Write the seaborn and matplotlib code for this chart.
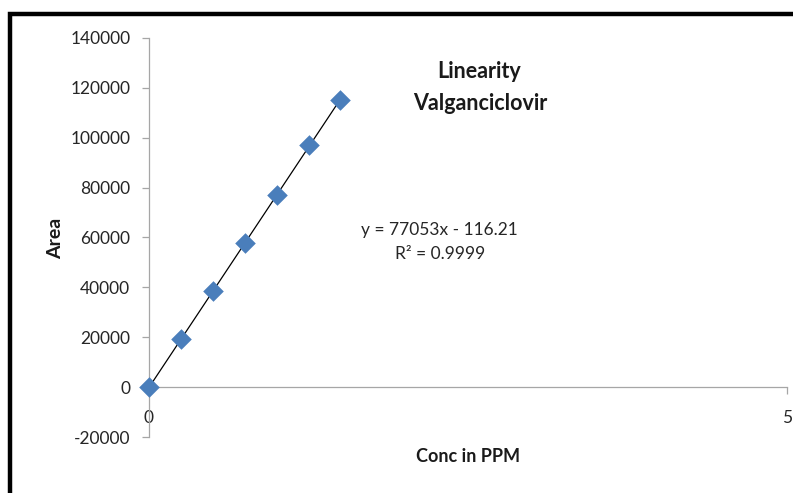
import numpy as np
import pandas as pd
import matplotlib
matplotlib.use("Agg")
import matplotlib.pyplot as plt
from matplotlib.lines import Line2D
import seaborn as sns

# Calibration data for Valganciclovir
conc = [0.0, 0.25, 0.5, 0.75, 1.0, 1.25, 1.5]
area = [0, 19300, 38500, 57600, 77000, 97200, 115300]

# Linear trendline coefficients
slope = 77053
intercept = -116.21
r_squared = 0.9999

y_ticks = [-20000, 0, 20000, 40000, 60000, 80000, 100000, 120000, 140000]
x_ticks = [0, 5]

sns.set_theme(style="white")
plt.rcParams["font.family"] = ["Lato", "DejaVu Sans"]

W, H = 793, 493
fig = plt.figure(figsize=(W / 100, H / 100), dpi=100)
fig.patch.set_facecolor("white")
ax = fig.add_axes([149 / W, 56 / H, 638 / W, 399 / H])

df = pd.DataFrame({"Conc": conc, "Area": area})

fit_x = np.array([conc[0], conc[-1]])
fit_y = slope * fit_x + intercept
sns.lineplot(x=fit_x, y=fit_y, color="black", linewidth=0.9, ax=ax, zorder=2)
sns.scatterplot(data=df, x="Conc", y="Area", marker="D", s=110,
                color="#4a7ebb", edgecolor="#4a7ebb", linewidth=0,
                ax=ax, zorder=3, clip_on=False)

ax.set_xlim(0, 5)
ax.set_ylim(-20000, 140000)
ax.set_xticks(x_ticks)
ax.set_yticks(y_ticks)
ax.set_xticklabels([str(v) for v in x_ticks])
ax.set_yticklabels([str(v) for v in y_ticks])

grey = "#a6a6a6"
for side in ("top", "right"):
    ax.spines[side].set_visible(False)
ax.spines["bottom"].set_position(("data", 0))
for side in ("bottom", "left"):
    ax.spines[side].set_color(grey)
    ax.spines[side].set_linewidth(0.9)

ax.tick_params(axis="y", direction="out", length=5, width=0.9, color=grey,
               pad=8.5, labelsize=12.5, labelcolor="#262626", left=True)
ax.tick_params(axis="x", direction="out", length=5, width=0.9, color=grey,
               pad=11.5, labelsize=12.5, labelcolor="#262626", bottom=True)

ax.set_xlabel("")
ax.set_ylabel("")

# Axis titles
fig.text(468 / W, 1 - 456 / H, "Conc in PPM", ha="center", va="center",
         fontsize=13, fontweight="bold", color="#1a1a1a")
fig.text(56 / W, 1 - 238 / H, "Area", ha="center", va="center",
         rotation=90, fontsize=14, fontweight="bold", color="#1a1a1a")

# Chart title
fig.text(479 / W, 1 - 71 / H, "Linearity", ha="center", va="center",
         fontsize=15.5, fontweight="bold", color="#1a1a1a")
fig.text(480 / W, 1 - 103 / H, "Valganciclovir", ha="center", va="center",
         fontsize=15.5, fontweight="bold", color="#1a1a1a")

# Trendline equation
fig.text(439 / W, 1 - 230 / H, f"y = {slope}x - {abs(intercept)}",
         ha="center", va="center", fontsize=12.5, color="#262626")
fig.text(440 / W, 1 - 254 / H, f"R\u00b2 = {r_squared}",
         ha="center", va="center", fontsize=12.5, color="#262626")

# Outer frame (top and left edges)
frame = Line2D([10 / W, 10 / W, 1.02], [-0.02, 1 - 14 / H, 1 - 14 / H],
               transform=fig.transFigure, color="black", linewidth=3.2,
               solid_joinstyle="miter")
fig.add_artist(frame)

fig.savefig("out.png", dpi=100)
